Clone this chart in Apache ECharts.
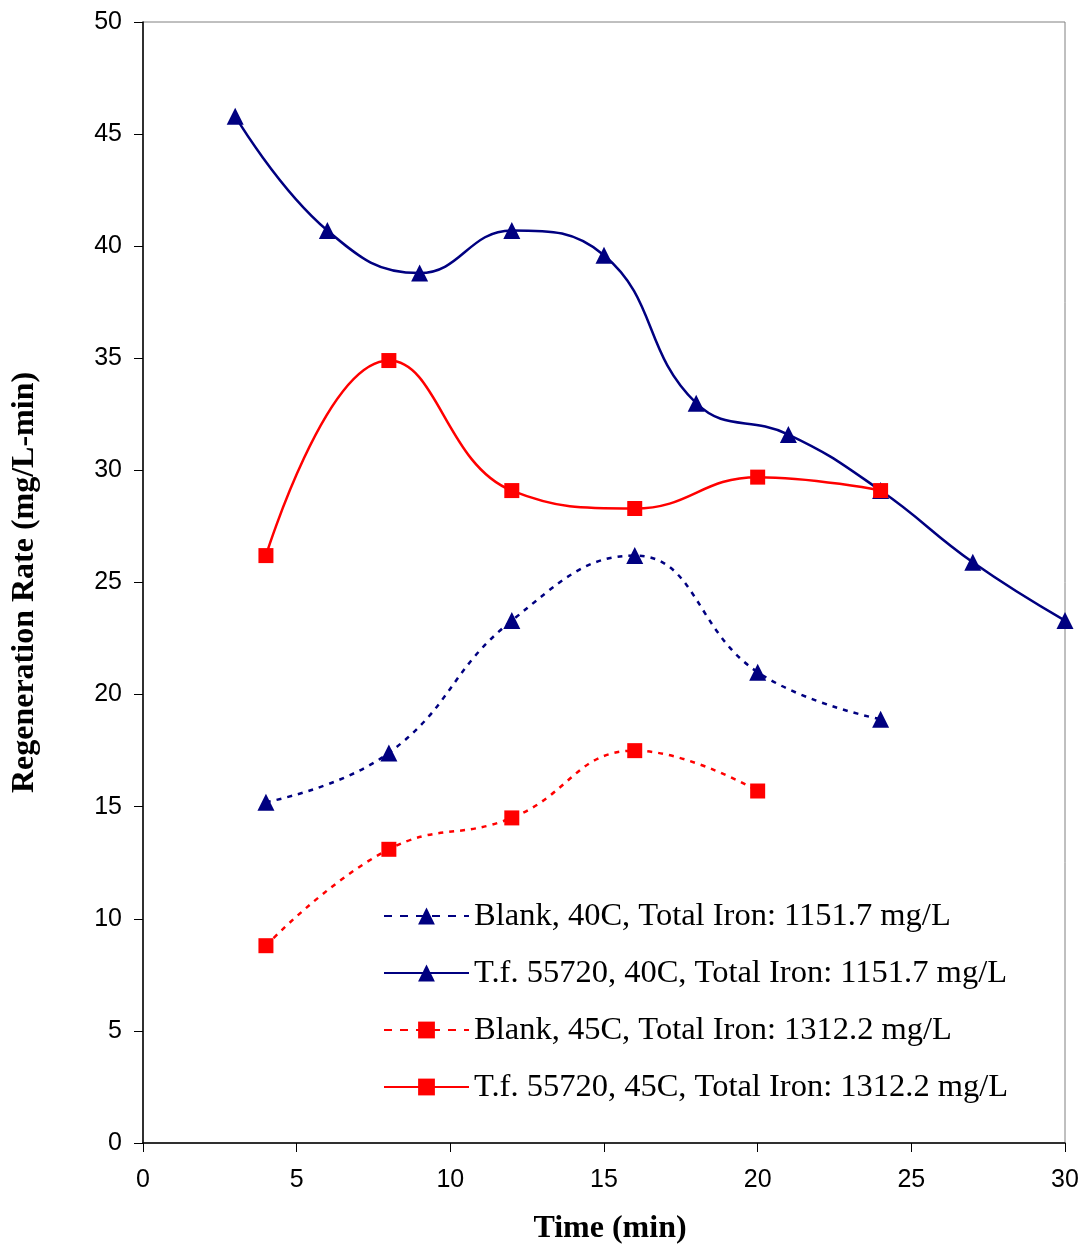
<!DOCTYPE html>
<html><head><meta charset="utf-8">
<script src="https://cdn.jsdelivr.net/npm/echarts@6/dist/echarts.min.js"></script>
<style>html,body{margin:0;padding:0;background:#fff}#c{width:1083px;height:1245px}</style>
</head><body><div id="c"></div>
<script>
const blank40 = [[4,15.2],[8,17.4],[12,23.3],[16,26.2],[20,21.0],[24,18.9]];
const tf40 = [[3,45.8],[6,40.7],[9,38.8],[12,40.7],[15,39.6],[18,33.0],[21,31.6],[24,29.1],[27,25.9],[30,23.3]];
const blank45 = [[4,8.8],[8,13.1],[12,14.5],[16,17.5],[20,15.7]];
const tf45 = [[4,26.2],[8,34.9],[12,29.1],[16,28.3],[20,29.7],[24,29.1]];
const names = ['Blank, 40C, Total Iron: 1151.7 mg/L','T.f. 55720, 40C, Total Iron: 1151.7 mg/L','Blank, 45C, Total Iron: 1312.2 mg/L','T.f. 55720, 45C, Total Iron: 1312.2 mg/L'];
const navy = '#000080', red = '#ff0000';
const chart = echarts.init(document.getElementById('c'), null, {renderer:'canvas'});
function ser(name, data, color, dashed, symbol){
  return {name, type:'line', data, smooth:0.45, symbol, symbolSize: symbol==='triangle'?17:15,
    itemStyle:{color}, lineStyle:{color, width:2.5, type: dashed?[5,6]:'solid'}, z: dashed?2:3};
}
chart.setOption({
  animation:false,
  grid:{left:143, right:18, top:22, bottom:102, outerBoundsMode:'none', containLabel:false,
    show:true, borderColor:'#808080', borderWidth:1},
  legend:{orient:'vertical', left:378, top:893, itemWidth:85, itemHeight:21, itemGap:21,
    textStyle:{fontFamily:'Liberation Serif', fontSize:32.5, color:'#000', lineHeight:36, padding:[0,0,0,0]},
    data:names.map((n,i)=>({name:n, lineStyle:{type: i%2===0?[8,8]:'solid'}}))},
  xAxis:{type:'value', min:0, max:30, interval:5,
    axisLine:{lineStyle:{color:'#000', width:1.5}},
    axisTick:{inside:false, length:9, lineStyle:{color:'#000'}},
    splitLine:{show:false},
    axisLabel:{fontFamily:'Liberation Sans', fontSize:25, color:'#000', margin:25},
    name:'Time (min)', nameLocation:'middle', nameGap:70,
    nameTextStyle:{fontFamily:'Liberation Serif', fontSize:32, fontWeight:'bold', color:'#000', padding:[0,0,0,12]}},
  yAxis:{type:'value', min:0, max:50, interval:5,
    axisLine:{show:true, lineStyle:{color:'#000', width:1.5}},
    axisTick:{show:true, length:9, lineStyle:{color:'#000'}},
    splitLine:{show:false},
    axisLabel:{fontFamily:'Liberation Sans', fontSize:25, color:'#000', margin:21},
    name:'Regeneration Rate (mg/L-min)', nameLocation:'middle', nameGap:102,
    nameTextStyle:{fontFamily:'Liberation Serif', fontSize:32, fontWeight:'bold', color:'#000'}},
  series:[
    ser(names[0], blank40, navy, true, 'triangle'),
    ser(names[1], tf40, navy, false, 'triangle'),
    ser(names[2], blank45, red, true, 'rect'),
    ser(names[3], tf45, red, false, 'rect')
  ]
});
</script></body></html>
